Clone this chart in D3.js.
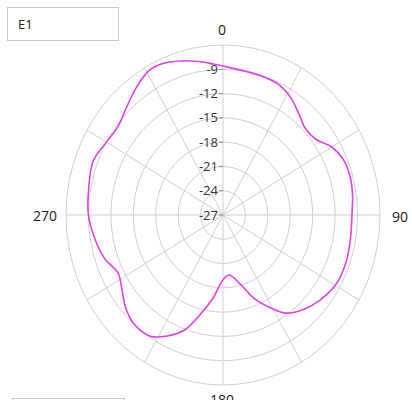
<!DOCTYPE html>
<html>
<head>
<meta charset="utf-8">
<script src="https://cdn.jsdelivr.net/npm/d3@7"></script>
<style>
  body { margin: 0; background: #fff; }
  svg { display: block; font-family: "Open Sans", sans-serif; }
</style>
</head>
<body>
<svg id="chart"></svg>
<script>
const width = 412;
const height = 400;

// pattern E1, angle in degrees (clockwise from top) and level in dB
const angles = [0, 10, 18, 25, 32, 39, 46, 53, 60, 67, 75, 82, 90, 100, 109, 119, 129, 137, 145, 151,
  158, 165, 174, 181, 187, 194, 200, 207, 213, 222, 229, 237, 243, 251, 258, 270, 280, 291, 300, 308,
  316, 324, 331, 337, 343, 350, 356];
const levels = [-8.6, -9.0, -9.1, -9.25, -9.9, -10.9, -11.65, -11.45, -10.2, -9.5, -9.35, -9.5, -9.75, -9.7, -9.55, -9.6, -10.3, -11.1, -12.2, -13.9,
  -15.9, -18.2, -19.55, -18.8, -16.8, -14.3, -11.85, -10.2, -9.15, -9.05, -9.7, -10.8, -11.25, -10.3, -9.75, -9.0, -8.75, -8.4, -9.0, -9.2,
  -8.45, -7.4, -6.6, -6.65, -7.1, -7.75, -8.3];

const ringTicks = [-24, -21, -18, -15, -12, -9, -6];
const tickLabels = [-27, -24, -21, -18, -15, -12, -9];
const spokeAngles = d3.range(0, 360, 30);
const angleLabels = [0, 90, 180, 270];
const legendName = "E1";

const svg = d3.select("#chart").attr("width", width).attr("height", height);

const cx = 223, cy = 215;
const rx = 157, ry = 170;   // the picture is slightly stretched vertically

const r = d3.scaleLinear().domain([-27, -6]).range([0, 1]);
const px = (a, v) => cx + rx * r(v) * Math.sin(a * Math.PI / 180);
const py = (a, v) => cy - ry * r(v) * Math.cos(a * Math.PI / 180);

const grid = svg.append("g").attr("fill", "none").attr("stroke", "#cfcfcf").attr("stroke-width", 1);

grid.selectAll("ellipse")
  .data(ringTicks)
  .enter()
  .append("ellipse")
  .attr("cx", cx)
  .attr("cy", cy)
  .attr("rx", d => rx * r(d))
  .attr("ry", d => ry * r(d));

grid.selectAll("line")
  .data(spokeAngles)
  .enter()
  .append("line")
  .attr("x1", cx)
  .attr("y1", cy)
  .attr("x2", d => px(d, -6))
  .attr("y2", d => py(d, -6));

// radial tick labels along the 0 degree spoke
const ticks = svg.append("g");
ticks.selectAll("line")
  .data(tickLabels)
  .enter()
  .append("line")
  .attr("x1", cx - 4)
  .attr("x2", cx)
  .attr("y1", d => py(0, d))
  .attr("y2", d => py(0, d))
  .attr("stroke", "#888");

ticks.selectAll("text")
  .data(tickLabels)
  .enter()
  .append("text")
  .attr("x", cx - 5)
  .attr("y", d => py(0, d))
  .attr("dy", "0.35em")
  .attr("text-anchor", "end")
  .attr("font-size", 13)
  .attr("fill", "#333")
  .text(d => d);

// angle labels
const labelPos = {0: [222, 30], 90: [400, 217], 180: [222, 400], 270: [45, 216]};
svg.append("g")
  .selectAll("text")
  .data(angleLabels)
  .enter()
  .append("text")
  .attr("x", d => labelPos[d][0])
  .attr("y", d => labelPos[d][1])
  .attr("dy", "0.35em")
  .attr("text-anchor", "middle")
  .attr("font-size", 14)
  .attr("fill", "#222")
  .text(d => d);

// pattern curve
const pts = angles.map((a, i) => [px(a, levels[i]), py(a, levels[i])]);
svg.append("path")
  .datum(pts)
  .attr("d", d3.line().curve(d3.curveCatmullRomClosed.alpha(0.5)))
  .attr("fill", "none")
  .attr("stroke", "#e040e6")
  .attr("stroke-width", 1.6);

// legend
svg.append("rect")
  .attr("x", 7.5).attr("y", 7.5)
  .attr("width", 111).attr("height", 33)
  .attr("fill", "#fff")
  .attr("stroke", "#c8c8c8");
svg.append("text")
  .attr("x", 18).attr("y", 29)
  .attr("font-size", 13)
  .attr("fill", "#222")
  .text(legendName);

// second legend box, cut off at the bottom edge
svg.append("rect")
  .attr("x", 12.5).attr("y", 398.5)
  .attr("width", 112).attr("height", 30)
  .attr("fill", "#fff")
  .attr("stroke", "#c8c8c8");
</script>
</body>
</html>
